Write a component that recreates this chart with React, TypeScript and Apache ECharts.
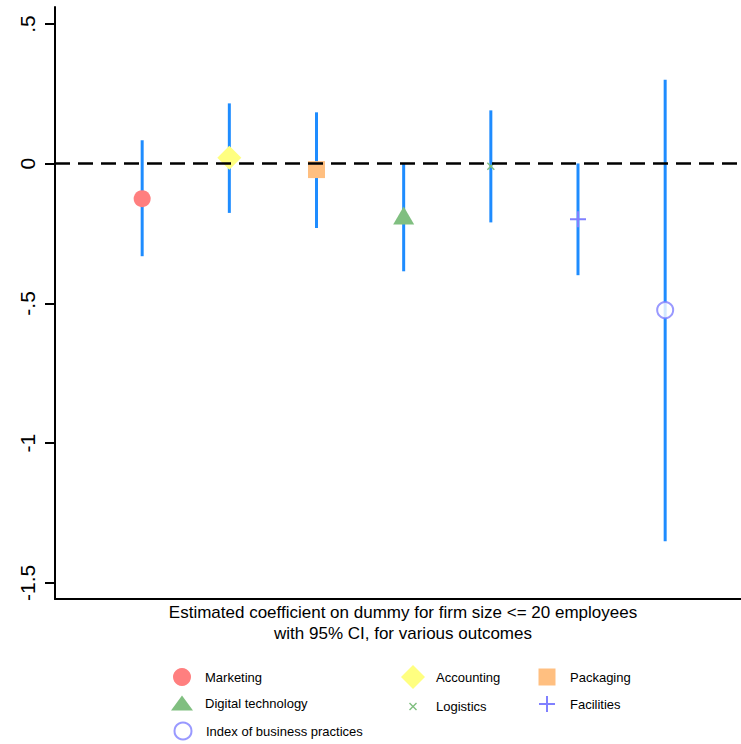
import React, { useEffect, useRef } from "react";
import * as echarts from "echarts";

const categories = [
  "Marketing",
  "Accounting",
  "Packaging",
  "Digital technology",
  "Logistics",
  "Facilities",
  "Index of business practices",
];
const positions = [1, 2, 3, 4, 5, 6, 7];
const coef = [-0.125, 0.021, -0.021, -0.185, -0.009, -0.199, -0.524];
const ciLow = [-0.331, -0.176, -0.23, -0.385, -0.21, -0.399, -1.351];
const ciHigh = [0.084, 0.216, 0.184, 0.001, 0.191, 0.001, 0.301];
const yTicks = [0.5, 0, -0.5, -1, -1.5];
const yTickLabels = [".5", "0", "-.5", "-1", "-1.5"];

const XPATH =
  "path://M0,1 L1,0 L4,3 L7,0 L8,1 L5,4 L8,7 L7,8 L4,5 L1,8 L0,7 L3,4 Z";
const PLUSPATH = "path://M7,0 H9 V7 H16 V9 H9 V16 H7 V9 H0 V7 H7 Z";

const markerStyles = [
  { symbol: "circle", size: 17, color: "#ff7f7f" },
  { symbol: "diamond", size: 24, color: "#ffff80" },
  { symbol: "rect", size: 17, color: "#ffbf80" },
  { symbol: "triangle", size: [21, 18], color: "#80bf80" },
  { symbol: XPATH, size: 8, color: "#80bf80" },
  { symbol: PLUSPATH, size: 16, color: "#8080ff" },
  { symbol: "emptyCircle", size: 16, color: "#8080ff" },
];

// legend layout: icon center, icon size, text x, text center y
const legendLayout = [
  { cx: 182, cy: 677, w: 18, h: 18, tx: 205, ty: 680 },
  { cx: 413, cy: 677, w: 24, h: 24, tx: 436, ty: 680 },
  { cx: 547, cy: 677, w: 17, h: 17, tx: 570, ty: 680 },
  { cx: 182, cy: 703, w: 22, h: 15, tx: 205, ty: 706 },
  { cx: 413, cy: 704, w: 8, h: 8, tx: 436, ty: 706 },
  { cx: 547, cy: 704, w: 16, h: 16, tx: 570, ty: 706 },
  { cx: 182, cy: 730, w: 17, h: 17, tx: 205, ty: 732 },
];

const FONT = "Liberation Sans";

export default function App() {
  const ref = useRef<HTMLDivElement>(null);
  useEffect(() => {
    if (!ref.current) return;
    const chart = echarts.init(ref.current, null, { renderer: "svg" });

    const errData = positions.map((p, i) => [p, ciLow[i], ciHigh[i]]);

    const scatterSeries = categories.map((name, i) => {
      const m = markerStyles[i];
      const isEmpty = m.symbol === "emptyCircle";
      return {
        type: "scatter",
        name,
        z: 4,
        symbol: m.symbol,
        symbolSize: m.size,
        itemStyle: isEmpty
          ? { color: m.color, borderColor: m.color, borderWidth: 2 }
          : { color: m.color, opacity: 1 },
        data: [[positions[i], coef[i]]],
        silent: true,
      };
    });

    const legends = categories.map((name, i) => {
      const L = legendLayout[i];
      const left = L.cx - L.w / 2;
      const top = L.cy - L.h / 2;
      const padLeft = Math.max(0, L.tx - (left + L.w + 5));
      const padTop = Math.max(0, 2 * (L.ty - L.cy));
      return {
        data: [name],
        left,
        top,
        padding: 0,
        itemWidth: L.w,
        itemHeight: L.h,
        selectedMode: false,
        textStyle: {
          fontFamily: FONT,
          fontSize: 13,
          color: "#000",
          padding: [padTop, 0, 0, padLeft],
        },
      };
    });

    chart.setOption({
      animation: false,
      backgroundColor: "#fff",
      legend: legends,
      grid: { left: 55, top: 7, right: 0, bottom: 145, containLabel: false },
      xAxis: {
        type: "value",
        min: 0,
        max: 7.87,
        axisLine: { show: true, onZero: false, lineStyle: { color: "#000", width: 2 } },
        axisTick: { show: false },
        axisLabel: { show: false },
        splitLine: { show: false },
        name:
          "Estimated coefficient on dummy for firm size <= 20 employees\nwith 95% CI, for various outcomes",
        nameLocation: "middle",
        nameGap: 3,
        nameTextStyle: {
          fontFamily: FONT,
          fontSize: 17,
          lineHeight: 21,
          color: "#000",
          verticalAlign: "top",
          padding: [0, 0, 0, 10],
        },
      },
      yAxis: {
        type: "value",
        min: -1.558,
        max: 0.561,
        axisLine: { show: true, onZero: false, lineStyle: { color: "#000", width: 2 } },
        axisTick: {
          show: true,
          length: 10,
          customValues: yTicks,
          lineStyle: { color: "#000", width: 2 },
        },
        axisLabel: {
          show: true,
          customValues: yTicks,
          rotate: 90,
          margin: 17,
          fontFamily: FONT,
          fontSize: 21,
          color: "#000",
          formatter: (v: number) => {
            const idx = yTicks.findIndex((t) => Math.abs(t - v) < 1e-9);
            return idx >= 0 ? yTickLabels[idx] : "";
          },
        },
        splitLine: { show: false },
      },
      series: [
        {
          type: "custom",
          name: "ci",
          z: 3,
          silent: true,
          data: errData,
          renderItem: (params: any, api: any) => {
            const x = api.value(0);
            const p1 = api.coord([x, api.value(1)]);
            const p2 = api.coord([x, api.value(2)]);
            return {
              type: "line",
              shape: { x1: p1[0], y1: p1[1], x2: p2[0], y2: p2[1] },
              style: { stroke: "#1e8cff", lineWidth: 3 },
            };
          },
          markLine: {
            silent: true,
            symbol: "none",
            label: { show: false },
            lineStyle: { color: "#000", width: 2.5, type: [15, 8] },
            data: [{ yAxis: 0 }],
          },
        },
        ...scatterSeries,
      ],
    });
    return () => chart.dispose();
  }, []);
  return (
    <div
      ref={ref}
      style={{ position: "absolute", left: 0, top: 0, width: 741, height: 744 }}
    />
  );
}
